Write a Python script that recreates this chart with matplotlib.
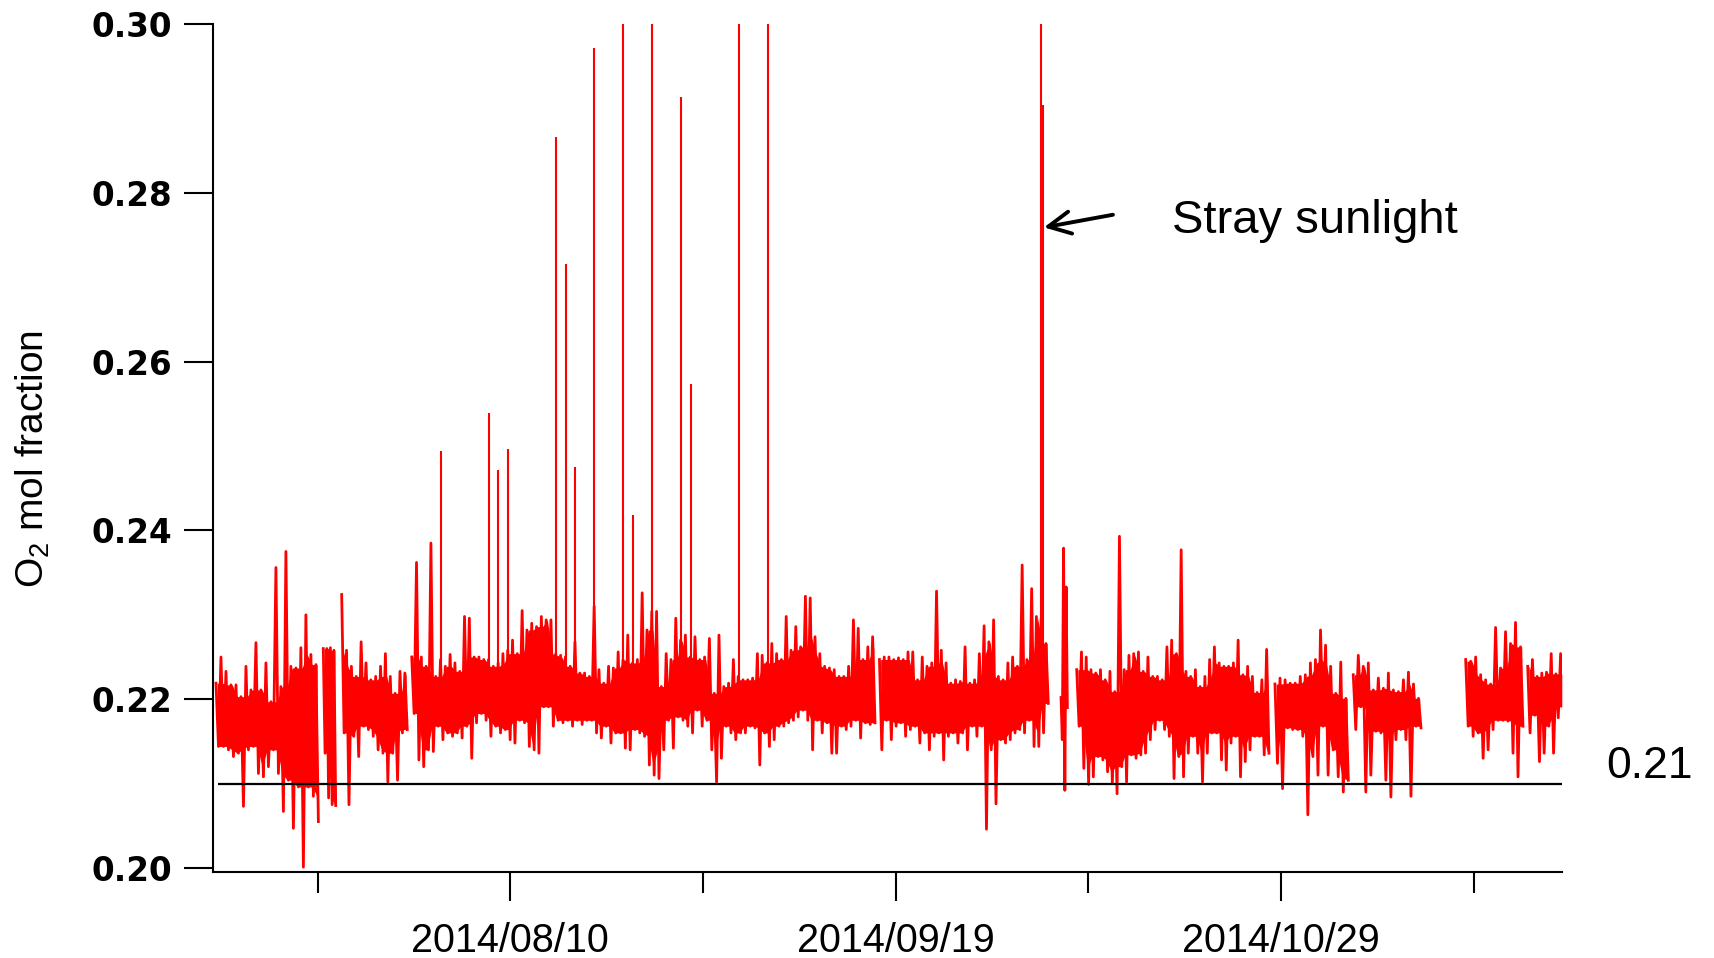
import numpy as np
import matplotlib
matplotlib.use("Agg")
import matplotlib.pyplot as plt
import matplotlib.dates as mdates
from matplotlib.ticker import FixedLocator, FuncFormatter
from datetime import datetime

plt.rcParams['mathtext.fontset'] = 'custom'
plt.rcParams['mathtext.rm'] = 'Liberation Sans'
plt.rcParams['mathtext.it'] = 'Liberation Sans:italic'

# time origin of the record; all times below are days after it
T0 = datetime(2014, 7, 10)

# continuous measurement blocks: (first day, last day)
seg_bounds = [
    (0.44, 11.07), (11.58, 12.87), (13.49, 20.30), (20.76, 68.86),
    (69.32, 86.85), (88.17, 88.83), (89.80, 109.76), (110.38, 118.00),
    (118.51, 125.54), (130.18, 136.13), (136.62, 140.28),
]

# O2 mol fraction, each block as successive (high, low) pairs every half day
seg_a = [(0.2219, 0.2144), (0.2250, 0.2144), (0.2233, 0.2140), (0.2217, 0.2132),
         (0.2217, 0.2136), (0.2203, 0.2073), (0.2239, 0.2140), (0.2211, 0.2144),
         (0.2267, 0.2112), (0.2211, 0.2108), (0.2243, 0.2120), (0.2197, 0.2140),
         (0.2356, 0.2112), (0.2215, 0.2067), (0.2375, 0.2104), (0.2239, 0.2047),
         (0.2237, 0.2096), (0.2261, 0.2001), (0.2300, 0.2096), (0.2253, 0.2085),
         (0.2241, 0.2055)]
seg_a2 = [(0.2260, 0.2136), (0.2260, 0.2083), (0.2261, 0.2075), (0.2258, 0.2074)]
seg_b = [(0.2324, 0.2160), (0.2258, 0.2075), (0.2239, 0.2156), (0.2227, 0.2132),
         (0.2268, 0.2168), (0.2243, 0.2164), (0.2223, 0.2156), (0.2227, 0.2140),
         (0.2239, 0.2136), (0.2254, 0.2102), (0.2227, 0.2136), (0.2207, 0.2104),
         (0.2233, 0.2160), (0.2231, 0.2164)]
seg_c1 = [(0.2250, 0.2183), (0.2362, 0.2128), (0.2250, 0.2120), (0.2239, 0.2140),
          (0.2385, 0.2138), (0.2227, 0.2168), (0.2247, 0.2152), (0.2239, 0.2160),
          (0.2253, 0.2156), (0.2243, 0.2160), (0.2233, 0.2154), (0.2298, 0.2168),
          (0.2296, 0.2130), (0.2250, 0.2172), (0.2250, 0.2183), (0.2247, 0.2175),
          (0.2247, 0.2156), (0.2239, 0.2168), (0.2243, 0.2160), (0.2254, 0.2164),
          (0.2258, 0.2152), (0.2270, 0.2148), (0.2254, 0.2175), (0.2305, 0.2172),
          (0.2282, 0.2144), (0.2290, 0.2140), (0.2286, 0.2136), (0.2298, 0.2191),
          (0.2294, 0.2191), (0.2294, 0.2168), (0.2254, 0.2175), (0.2252, 0.2172),
          (0.2250, 0.2175), (0.2239, 0.2168), (0.2268, 0.2175), (0.2231, 0.2170),
          (0.2231, 0.2175), (0.2227, 0.2175), (0.2310, 0.2160), (0.2235, 0.2154),
          (0.2219, 0.2168), (0.2239, 0.2148), (0.2237, 0.2160), (0.2256, 0.2160),
          (0.2247, 0.2142), (0.2276, 0.2140), (0.2243, 0.2164), (0.2247, 0.2160),
          (0.2326, 0.2156), (0.2282, 0.2122), (0.2304, 0.2110), (0.2304, 0.2106),
          (0.2215, 0.2140), (0.2254, 0.2175), (0.2247, 0.2142), (0.2296, 0.2179),
          (0.2270, 0.2175), (0.2276, 0.2168), (0.2250, 0.2160), (0.2274, 0.2187),
          (0.2247, 0.2168), (0.2250, 0.2175), (0.2272, 0.2140), (0.2207, 0.2102),
          (0.2276, 0.2130), (0.2215, 0.2168), (0.2219, 0.2160), (0.2247, 0.2152),
          (0.2227, 0.2160), (0.2223, 0.2160), (0.2223, 0.2168), (0.2225, 0.2166),
          (0.2254, 0.2122), (0.2252, 0.2160), (0.2243, 0.2144), (0.2266, 0.2152),
          (0.2254, 0.2168), (0.2247, 0.2168), (0.2298, 0.2172), (0.2258, 0.2175),
          (0.2286, 0.2179), (0.2262, 0.2187), (0.2322, 0.2175), (0.2320, 0.2140),
          (0.2274, 0.2175), (0.2254, 0.2160), (0.2239, 0.2172), (0.2237, 0.2136),
          (0.2235, 0.2136), (0.2227, 0.2168), (0.2227, 0.2164), (0.2239, 0.2168),
          (0.2294, 0.2175), (0.2284, 0.2154), (0.2247, 0.2172), (0.2262, 0.2170),
          (0.2274, 0.2172)]
seg_c2 = [(0.2247, 0.2140), (0.2250, 0.2175), (0.2250, 0.2152), (0.2247, 0.2168),
          (0.2249, 0.2172), (0.2247, 0.2156), (0.2256, 0.2164), (0.2256, 0.2168),
          (0.2223, 0.2148), (0.2250, 0.2160), (0.2239, 0.2140), (0.2243, 0.2156),
          (0.2328, 0.2160), (0.2258, 0.2128), (0.2243, 0.2156), (0.2219, 0.2160),
          (0.2223, 0.2148), (0.2221, 0.2160), (0.2262, 0.2140), (0.2219, 0.2168),
          (0.2223, 0.2156), (0.2254, 0.2168), (0.2287, 0.2046), (0.2268, 0.2140),
          (0.2294, 0.2076), (0.2227, 0.2152), (0.2223, 0.2148), (0.2243, 0.2152),
          (0.2250, 0.2160), (0.2239, 0.2164), (0.2359, 0.2160), (0.2247, 0.2175),
          (0.2331, 0.2144), (0.2298, 0.2144), (0.2296, 0.2160), (0.2266, 0.2195)]
seg_s = [(0.2202, 0.2152), (0.2379, 0.2092), (0.2333, 0.2190)]
seg_d = [(0.2235, 0.2168), (0.2256, 0.2118), (0.2250, 0.2099), (0.2235, 0.2108),
         (0.2231, 0.2132), (0.2235, 0.2128), (0.2223, 0.2114), (0.2233, 0.2100),
         (0.2209, 0.2088), (0.2393, 0.2120), (0.2235, 0.2102), (0.2252, 0.2134),
         (0.2254, 0.2130), (0.2256, 0.2134), (0.2233, 0.2136), (0.2250, 0.2152),
         (0.2227, 0.2164), (0.2227, 0.2175), (0.2223, 0.2164), (0.2262, 0.2156),
         (0.2270, 0.2106), (0.2254, 0.2132), (0.2377, 0.2108), (0.2233, 0.2136),
         (0.2227, 0.2156), (0.2235, 0.2136), (0.2215, 0.2102), (0.2227, 0.2136),
         (0.2247, 0.2160), (0.2262, 0.2160), (0.2243, 0.2128), (0.2239, 0.2116),
         (0.2239, 0.2148), (0.2243, 0.2156), (0.2270, 0.2108), (0.2229, 0.2126),
         (0.2239, 0.2140), (0.2227, 0.2156), (0.2208, 0.2156), (0.2223, 0.2134),
         (0.2259, 0.2136)]
seg_e = [(0.2218, 0.2124), (0.2225, 0.2094), (0.2223, 0.2166), (0.2219, 0.2164),
         (0.2219, 0.2164), (0.2227, 0.2156), (0.2229, 0.2063), (0.2243, 0.2132),
         (0.2247, 0.2110), (0.2282, 0.2168), (0.2264, 0.2110), (0.2239, 0.2140),
         (0.2207, 0.2108), (0.2244, 0.2090), (0.2201, 0.2104)]
seg_f = [(0.2229, 0.2164), (0.2252, 0.2191), (0.2239, 0.2090), (0.2243, 0.2110),
         (0.2211, 0.2162), (0.2225, 0.2160), (0.2213, 0.2104), (0.2231, 0.2084),
         (0.2211, 0.2152), (0.2209, 0.2164), (0.2223, 0.2152), (0.2232, 0.2085),
         (0.2218, 0.2168), (0.2201, 0.2166)]
seg_g = [(0.2247, 0.2168), (0.2245, 0.2156), (0.2250, 0.2160), (0.2229, 0.2130),
         (0.2223, 0.2140), (0.2218, 0.2164), (0.2285, 0.2175), (0.2237, 0.2175),
         (0.2280, 0.2174), (0.2266, 0.2136), (0.2291, 0.2108), (0.2262, 0.2168)]
seg_h = [(0.2239, 0.2160), (0.2247, 0.2181), (0.2227, 0.2126), (0.2231, 0.2136),
         (0.2232, 0.2168), (0.2254, 0.2136), (0.2230, 0.2178), (0.2254, 0.2191)]

segments = [seg_a, seg_a2, seg_b, seg_c1, seg_c2, seg_s, seg_d, seg_e, seg_f, seg_g, seg_h]

# isolated daytime excursions (day, peak value); the tallest run off the axis
spike_days = [23.77, 28.75, 29.75, 30.76, 35.74, 36.75, 37.74, 39.72, 42.73,
              43.73, 45.74, 48.72, 49.72, 54.71, 57.72, 86.14, 86.30]
spike_tops = [0.2494, 0.2539, 0.2472, 0.2497, 0.2866, 0.2716, 0.2475, 0.2971, 0.3200,
              0.2418, 0.3200, 0.2914, 0.2574, 0.3200, 0.3200, 0.3200, 0.2904]
spike_base = 0.2200

reference_level = 0.21
ref_span = (0.69, 140.30)

y_ticks = [0.20, 0.22, 0.24, 0.26, 0.28, 0.30]
major_dates = ['2014/08/10', '2014/09/19', '2014/10/29']
minor_dates = ['2014/07/21', '2014/08/30', '2014/10/09', '2014/11/18']
x_range_days = (0.10, 140.18)

annot_label = 'Stray sunlight'
annot_tip = (86.40, 0.2759)
annot_tail = (93.56, 0.2774)
annot_text_pos = (99.74, 0.27524)

# ---------------------------------------------------------------------------
t0 = mdates.date2num(T0)
red = '#ff0000'

fig = plt.figure(figsize=(17.14, 9.58), dpi=100)
ax = fig.add_axes([0.12410, 0.09008, 0.78722, 0.88486])

xs, ys = [], []
for (d0, d1), pairs in zip(seg_bounds, segments):
    arr = np.array(pairs)
    vals = arr.ravel()
    xv = t0 + np.linspace(d0, d1, len(vals))
    xs.append(xv)
    ys.append(vals)
    xs.append([np.nan])
    ys.append([np.nan])

    # dense core of the record: lowest of neighbouring highs down to
    # highest of neighbouring lows
    hi, lo = arr[:, 0], arr[:, 1]
    if len(hi) >= 3:
        hp = np.pad(hi, 1, mode='edge')
        lp = np.pad(lo, 1, mode='edge')
        core_top = np.minimum(np.minimum(hp[:-2], hp[1:-1]), hp[2:])
        core_bot = np.maximum(np.maximum(lp[:-2], lp[1:-1]), lp[2:])
        xc = (xv[0::2] + xv[1::2]) / 2
        ax.fill_between(xc, core_bot, core_top, where=core_top > core_bot,
                        color=red, lw=0, interpolate=True, zorder=2)

x_all = np.concatenate(xs)
y_all = np.concatenate(ys)

ax.plot(x_all, y_all, color=red, lw=2.0, zorder=2)
ax.vlines(t0 + np.array(spike_days), spike_base, spike_tops, color=red, lw=1.5, zorder=2)
ax.hlines(reference_level, t0 + ref_span[0], t0 + ref_span[1], color='black', lw=1.6, zorder=3)

ax.set_xlim(t0 + x_range_days[0], t0 + x_range_days[1])
ax.set_ylim(0.19956, 0.30)

for s in ('top', 'right'):
    ax.spines[s].set_visible(False)
for s in ('left', 'bottom'):
    ax.spines[s].set_linewidth(1.5)

def to_num(lbl):
    return mdates.date2num(datetime.strptime(lbl, '%Y/%m/%d'))

ax.xaxis.set_major_locator(FixedLocator([to_num(d) for d in major_dates]))
ax.xaxis.set_minor_locator(FixedLocator([to_num(d) for d in minor_dates]))
ax.xaxis.set_major_formatter(mdates.DateFormatter('%Y/%m/%d'))
ax.set_yticks(y_ticks)
ax.yaxis.set_major_formatter(FuncFormatter(lambda v, p: f'{v:.2f}'))

ax.tick_params(axis='x', which='major', length=20.9, width=1.5, direction='out', pad=15)
ax.tick_params(axis='x', which='minor', length=15, width=1.5, direction='out')
ax.tick_params(axis='y', which='major', length=20.9, width=1.5, direction='out', pad=8)
for lbl in ax.get_xticklabels():
    lbl.set_fontfamily('Liberation Sans')
    lbl.set_fontsize(28.5)
for lbl in ax.get_yticklabels():
    lbl.set_fontfamily('DejaVu Sans')
    lbl.set_fontweight('bold')
    lbl.set_fontsize(23.5)

ax.set_ylabel(r'O$_2$ mol fraction', fontsize=28, fontfamily='Liberation Sans')
ax.yaxis.set_label_coords(-0.1190, 0.487)

ax.annotate('', xy=(t0 + annot_tip[0], annot_tip[1]),
            xytext=(t0 + annot_tail[0], annot_tail[1]),
            arrowprops=dict(arrowstyle='->,head_length=0.8,head_width=0.4',
                            lw=2.8, color='black', shrinkA=0, shrinkB=0,
                            mutation_scale=20))
ax.text(t0 + annot_text_pos[0], annot_text_pos[1], annot_label,
        fontsize=34, fontfamily='Liberation Sans', va='baseline', ha='left')

fig.text(1606 / 1714, 1 - 778 / 958, f'{reference_level:.2f}', fontsize=32,
         fontfamily='Liberation Sans', va='baseline', ha='left')

fig.savefig('out.png', dpi=100, facecolor='white')
